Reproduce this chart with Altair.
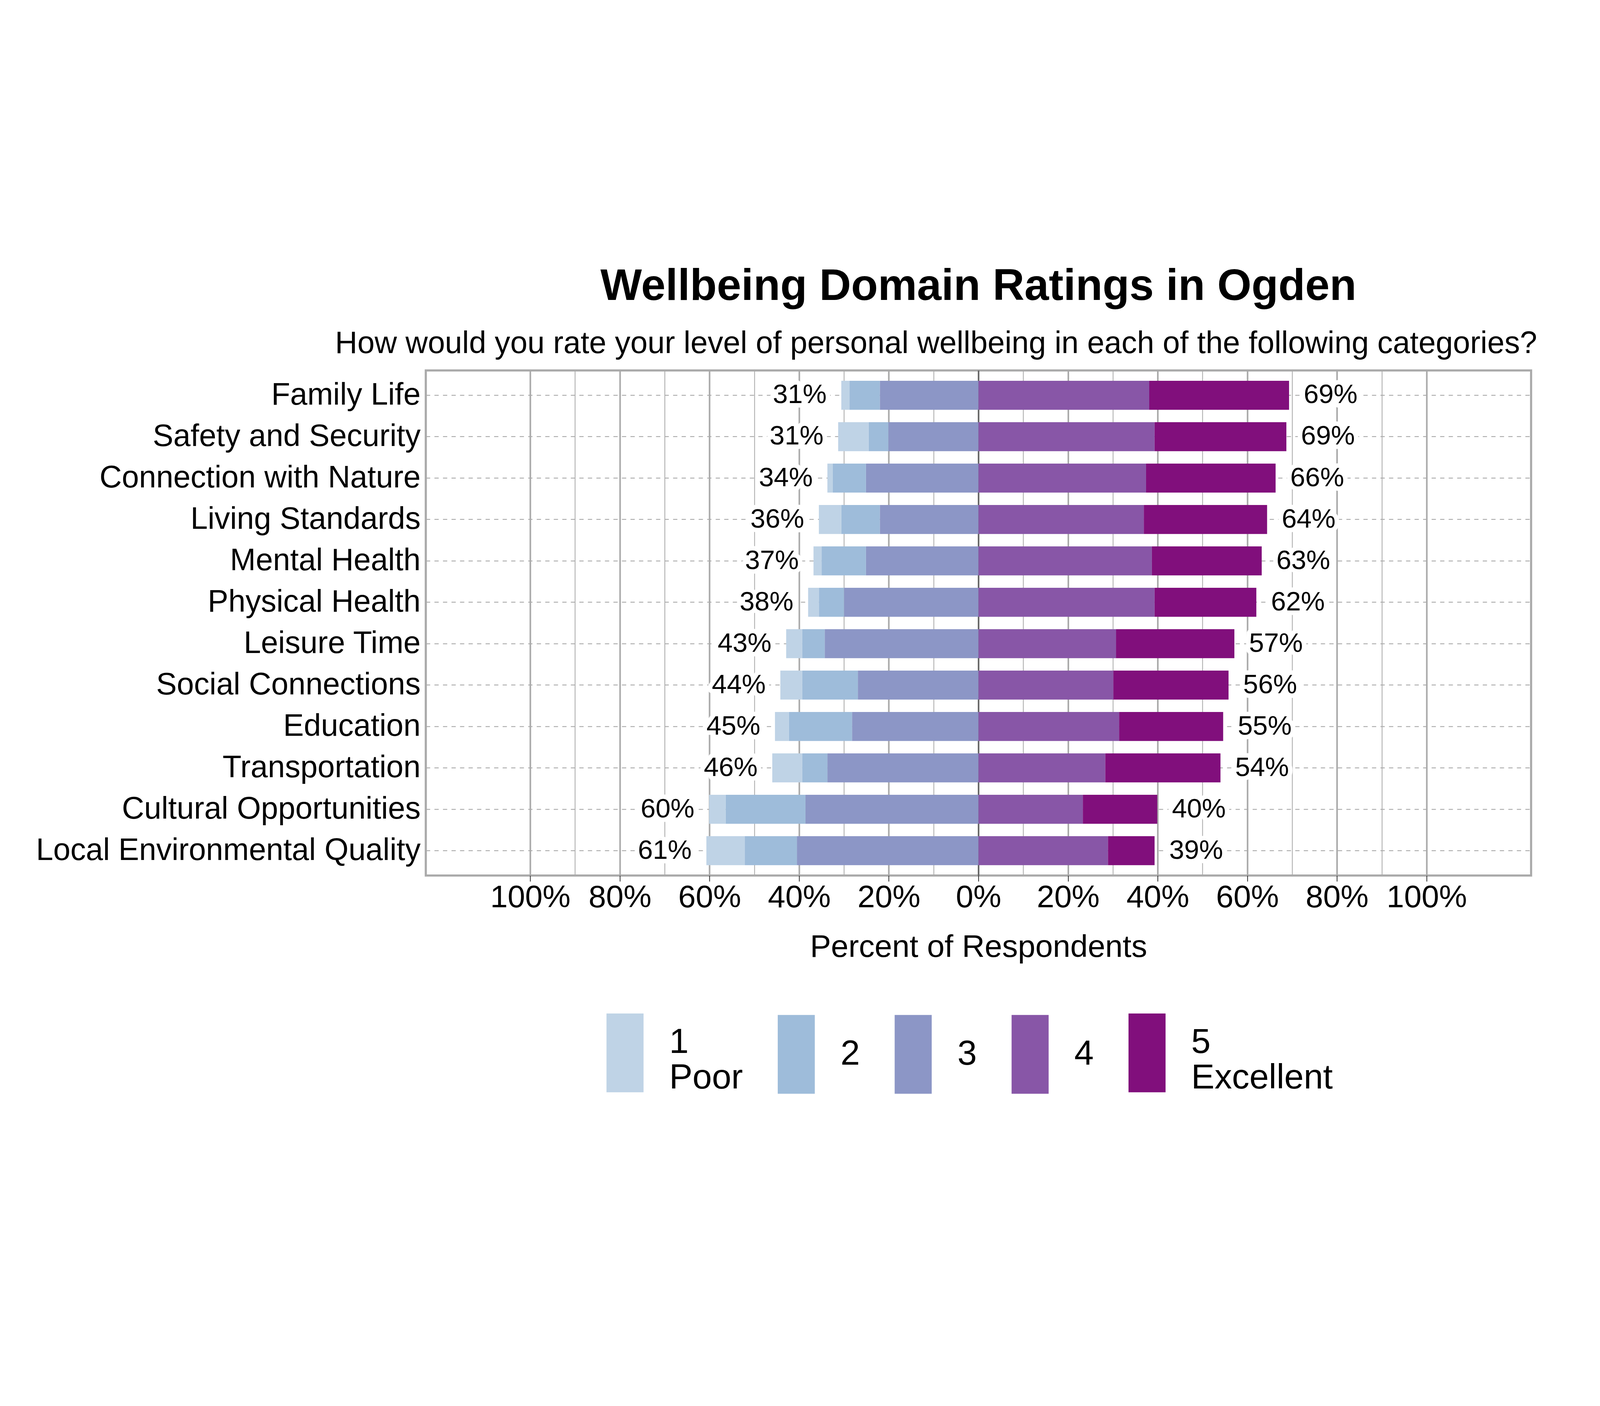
import altair as alt
import pandas as pd

domains = ["Family Life", "Safety and Security", "Connection with Nature", "Living Standards",
           "Mental Health", "Physical Health", "Leisure Time", "Social Connections",
           "Education", "Transportation", "Cultural Opportunities", "Local Environmental Quality"]
r1 = [1.8, 6.8, 1.2, 5.0, 1.8, 2.4, 3.6, 4.9, 3.1, 6.7, 3.7, 8.6]
r2 = [6.8, 4.4, 7.4, 8.6, 9.9, 5.6, 5.0, 12.4, 14.1, 5.6, 17.8, 11.6]
r3 = [22.0, 20.1, 25.1, 22.0, 25.1, 30.0, 34.3, 26.9, 28.2, 33.7, 38.6, 40.5]
r4 = [38.1, 39.3, 37.4, 36.9, 38.7, 39.3, 30.7, 30.1, 31.4, 28.3, 23.3, 28.9]
r5 = [31.2, 29.4, 28.9, 27.5, 24.5, 22.7, 26.4, 25.7, 23.2, 25.7, 16.6, 10.4]
rating_names = ["1", "2", "3", "4", "5"]
colors = ["#BFD3E6", "#9EBCDA", "#8C96C6", "#8856A7", "#810F7C"]
title_text = "Wellbeing Domain Ratings in Ogden"
subtitle_text = "How would you rate your level of personal wellbeing in each of the following categories?"
x_ticks = list(range(-100, 101, 10))

seg_rows = []
lab_rows = []
for i, d in enumerate(domains):
    a, b, c, e, f = r1[i], r2[i], r3[i], r4[i], r5[i]
    seg_rows += [
        dict(domain=d, rating="3", start=-c, end=0.0),
        dict(domain=d, rating="2", start=-(c + b), end=-c),
        dict(domain=d, rating="1", start=-(c + b + a), end=-(c + b)),
        dict(domain=d, rating="4", start=0.0, end=e),
        dict(domain=d, rating="5", start=e, end=e + f),
    ]
    neg = a + b + c
    pos = e + f
    lab_rows.append(dict(domain=d, neg=-neg, pos=pos,
                         neg_text=f"{int(neg + 0.5)}%", pos_text=f"{int(pos + 0.5)}%"))
seg = pd.DataFrame(seg_rows)
lab = pd.DataFrame(lab_rows)

FONT = "Liberation Sans"
xscale = alt.Scale(domain=[-123.3, 123.3], nice=False, zero=False)
yenc = alt.Y("domain:N", sort=domains,
             scale=alt.Scale(paddingInner=0.3, paddingOuter=0.25),
             axis=alt.Axis(title=None, labelFontSize=116, labelColor="black", labelPadding=20,
                           ticks=False, domain=False, grid=True, gridDash=[16, 16],
                           gridColor="#AAAAAA", gridWidth=3.3, bandPosition=0.5, labelLimit=3000))

bars = alt.Chart(seg).mark_bar().encode(
    x=alt.X("start:Q", scale=xscale,
            axis=alt.Axis(values=x_ticks,
                          labelExpr="datum.value % 20 == 0 ? abs(datum.value) + '%' : ''",
                          title="Percent of Respondents", titleFontSize=118, titleFontWeight="normal",
                          titleColor="black", titlePadding=70,
                          labelFontSize=118, labelColor="black", labelPadding=3, labelLimit=1000,
                          labelFlush=False, labelOverlap=False,
                          tickSize=22, tickColor="#333333", tickWidth=3,
                          tickOpacity={"condition": {"test": "datum.value % 20 != 0", "value": 0}, "value": 1},
                          grid=True,
                          gridColor={"condition": {"test": "datum.value == 0", "value": "#666666"}, "value": "#AAAAAA"},
                          gridWidth={"condition": {"test": "datum.value % 20 == 0", "value": 6}, "value": 3},
                          domain=False)),
    x2="end:Q",
    y=yenc,
    color=alt.Color("rating:N", scale=alt.Scale(domain=rating_names, range=colors),
                    legend=alt.Legend(orient="none", legendX=600, legendY=2415, direction="horizontal",
                                      title=None, symbolType="M-0.47,-1H0.47V1H-0.47Z",
                                      symbolSize=87616, symbolStrokeWidth=0, symbolOpacity=1,
                                      labelFontSize=131, labelColor="black", labelOffset=18,
                                      columnPadding=52, padding=0, labelLimit=2000,
                                      labelBaseline=alt.ExprRef("datum.value == '1' || datum.value == '5' ? 'alphabetic' : 'middle'"),
                                      labelExpr="datum.label == '1' ? ['1', 'Poor'] : datum.label == '5' ? ['5', 'Excellent'] : datum.label")),
)

halo_neg = alt.Chart(lab).mark_text(align="right", dx=-55, fontSize=101, color="white",
                                    stroke="white", strokeWidth=34, strokeJoin="round").encode(
    x=alt.X("neg:Q", scale=xscale, axis=None), y=yenc, text="neg_text:N")
halo_pos = alt.Chart(lab).mark_text(align="left", dx=55, fontSize=101, color="white",
                                    stroke="white", strokeWidth=34, strokeJoin="round").encode(
    x=alt.X("pos:Q", scale=xscale, axis=None), y=yenc, text="pos_text:N")
text_neg = alt.Chart(lab).mark_text(align="right", dx=-55, fontSize=101, color="black").encode(
    x=alt.X("neg:Q", scale=xscale, axis=None), y=yenc, text="neg_text:N")
text_pos = alt.Chart(lab).mark_text(align="left", dx=55, fontSize=101, color="black").encode(
    x=alt.X("pos:Q", scale=xscale,
            axis=alt.Axis(orient="top", title=subtitle_text, titleFontSize=116, titleFontWeight="normal",
                          titleColor="black", labels=False, ticks=False, grid=False, domain=False,
                          titleAnchor="end", titleAlign="right", titleX=4172, titlePadding=42)),
    y=yenc, text="pos_text:N")

chart = alt.layer(bars, halo_neg, halo_pos, text_neg, text_pos).resolve_axis(
    x="independent"
).properties(
    width=4150, height=1897,
    title=alt.TitleParams(title_text, fontSize=165, fontWeight="bold", anchor="middle",
                          offset=70, color="black", font=FONT),
    autosize=alt.AutoSizeParams(type="none"),
    padding={"left": 1587, "top": 543, "right": 247, "bottom": 1144},
).configure(font=FONT, background="white").configure_view(stroke="#AAAAAA", strokeWidth=8)

chart.save("out.html", embed_options={"renderer": "svg", "actions": False})
